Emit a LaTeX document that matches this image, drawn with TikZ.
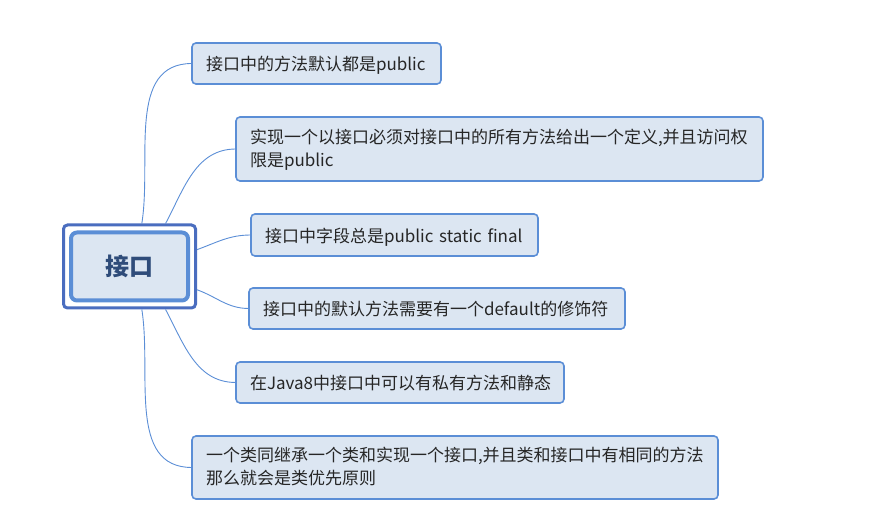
\documentclass[tikz,border=0pt]{standalone}
\usepackage{fontspec}
\setmainfont{Noto Sans CJK SC}
\usetikzlibrary{fit}
\definecolor{topicline}{HTML}{5B8ED6}
\definecolor{topicfill}{HTML}{DCE6F2}
\definecolor{rootframe}{HTML}{4A6DBF}
\definecolor{roottext}{HTML}{2F4C7A}
\definecolor{ink}{HTML}{262626}
\tikzset{
  branch/.style={draw=topicline, line width=0.9pt},
  topic/.style={
    rounded corners=4pt,
    draw=topicline,
    line width=1.6pt,
    fill=topicfill,
    anchor=west,
    align=left,
    outer sep=0pt,
    inner xsep=14pt,
    text=ink,
    font=\fontsize{17}{23}\selectfont
  },
  oneline/.style={topic, minimum height=41pt, text height=16pt, text depth=1pt},
  twoline/.style={topic, minimum height=64pt, text height=13pt, text depth=24pt},
  central/.style={
    rounded corners=6pt,
    draw=topicline,
    line width=4pt,
    fill=topicfill,
    minimum width=117pt,
    minimum height=68pt,
    inner sep=0pt,
    text=roottext,
    font=\fontsize{24}{28}\selectfont\bfseries
  }
}

\begin{document}
\begin{tikzpicture}[x=1pt, y=1pt]
  \path[use as bounding box] (0,0) rectangle (879,524);

  % central topic
  \node[central] (iface) at (129.5,257.5) {接口};
  \node[rounded corners=4pt, draw=rootframe, line width=3pt, inner sep=5.5pt,
    fit=(iface)] (frame) {};

  % subtopics
  \node[oneline, text width=221pt] (defpub) at (192,460.5)
    {接口中的方法默认都是public};
  \node[twoline, text width=499pt] (implall) at (236,375)
    {实现一个以接口必须对接口中的所有方法给出一个定义,并且访问权\\限是public};
  \node[oneline, minimum height=42pt, text width=259pt] (fields) at (251,289)
    {接口中字段总是public static final};
  \node[oneline, text width=348pt] (defmod) at (249,215.5)
    {接口中的默认方法需要有一个default的修饰符};
  \node[oneline, text width=300pt] (java8) at (236,141.5)
    {在Java8中接口中可以有私有方法和静态};
  \node[twoline, minimum height=63pt, text width=498pt] (clash) at (192,56.5)
    {一个类同继承一个类和实现一个接口,并且类和接口中有相同的方法\\那么就会是类优先原则};

  % branches
  \draw[branch] (frame.74) to[out=81, in=180] (defpub.west);
  \draw[branch] (frame.50) to[out=62, in=180] (implall.west);
  \draw[branch] (frame.14) to[out=20, in=180] (fields.west);
  \draw[branch] (frame.-19) to[out=-20, in=180] (defmod.west);
  \draw[branch] (frame.-50) to[out=-62, in=180] (java8.west);
  \draw[branch] (frame.-74) to[out=-81, in=180] (clash.west);
\end{tikzpicture}
\end{document}
